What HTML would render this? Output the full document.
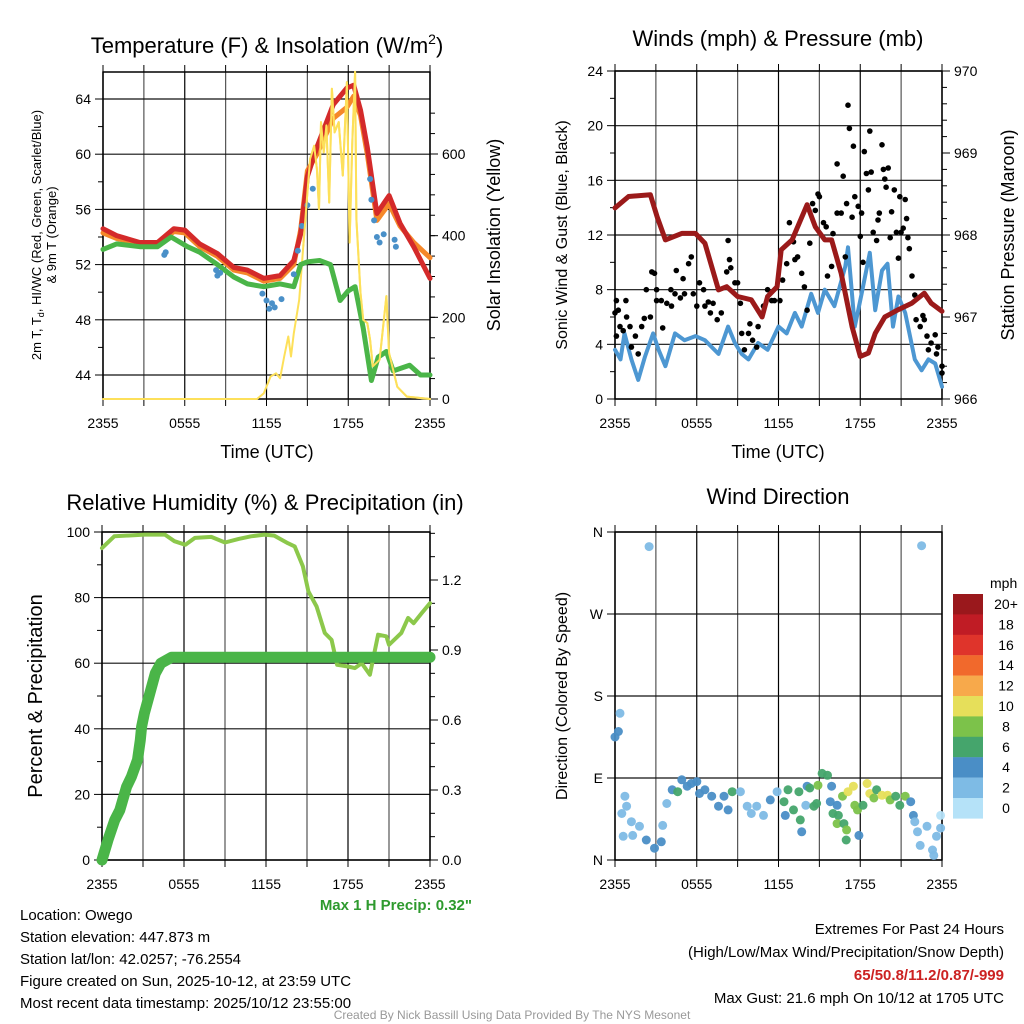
<!DOCTYPE html>
<html><head><meta charset="utf-8"><style>
html,body{margin:0;padding:0;background:#fff;}
svg{display:block;font-family:"Liberation Sans",Arial,sans-serif;}
</style></head><body>
<svg id="c" width="1024" height="1024" viewBox="0 0 1024 1024" xmlns="http://www.w3.org/2000/svg">
<text x="267" y="53" font-size="22" text-anchor="middle">Temperature (F) &amp; Insolation (W/m<tspan dy="-9" font-size="14">2</tspan><tspan dy="9">)</tspan></text>
<text x="778" y="46" font-size="22" text-anchor="middle">Winds (mph) &amp; Pressure (mb)</text>
<text x="265" y="510" font-size="22" text-anchor="middle">Relative Humidity (%) &amp; Precipitation (in)</text>
<text x="778" y="504" font-size="22" text-anchor="middle">Wind Direction</text>

<text x="267" y="458" font-size="18" text-anchor="middle">Time (UTC)</text>
<text x="778" y="458" font-size="18" text-anchor="middle">Time (UTC)</text>

<text transform="translate(41,235) rotate(-90)" font-size="13" text-anchor="middle">2m T, T<tspan font-size="9" dy="3">d</tspan><tspan dy="-3">, HI/WC (Red, Green, Scarlet/Blue)</tspan></text>
<text transform="translate(56,235) rotate(-90)" font-size="13" text-anchor="middle">&amp; 9m T (Orange)</text>
<text transform="translate(500,235) rotate(-90)" font-size="18" text-anchor="middle">Solar Insolation (Yellow)</text>
<text transform="translate(567,235) rotate(-90)" font-size="16" text-anchor="middle">Sonic Wind &amp; Gust (Blue, Black)</text>
<text transform="translate(1014,235) rotate(-90)" font-size="18" text-anchor="middle">Station Pressure (Maroon)</text>
<text transform="translate(42,696) rotate(-90)" font-size="20" text-anchor="middle">Percent &amp; Precipitation</text>
<text transform="translate(567,696) rotate(-90)" font-size="16" text-anchor="middle">Direction (Colored By Speed)</text>

<text x="472" y="910" font-size="15" font-weight="bold" fill="#2e9a2e" text-anchor="end">Max 1 H Precip: 0.32"</text>
<g font-size="15">
<text x="20" y="920">Location: Owego</text>
<text x="20" y="942">Station elevation: 447.873 m</text>
<text x="20" y="964">Station lat/lon: 42.0257; -76.2554</text>
<text x="20" y="986">Figure created on Sun, 2025-10-12, at 23:59 UTC</text>
<text x="20" y="1008">Most recent data timestamp: 2025/10/12 23:55:00</text>
</g>
<g font-size="15" text-anchor="end">
<text x="1004" y="934">Extremes For Past 24 Hours</text>
<text x="1004" y="957">(High/Low/Max Wind/Precipitation/Snow Depth)</text>
<text x="1004" y="980" font-weight="bold" fill="#cc2222">65/50.8/11.2/0.87/-999</text>
<text x="1004" y="1003">Max Gust: 21.6 mph On 10/12 at 1705 UTC</text>
</g>
<text x="512" y="1019" font-size="12" fill="#999" text-anchor="middle">Created By Nick Bassill Using Data Provided By The NYS Mesonet</text>
<g id="plots"></g>
</svg>
<script>
// ---------- data ----------
const timeTicks = ["2355","0555","1155","1755","2355"];
const tempHours = [0,1,2.7,4,5.2,6,7.1,8.4,9.6,10.6,11.8,13,14,14.5,15,15.7,16.9,17.9,18.4,18.9,19.4,20.1,21,21.8,22.8,24];
const tempRed = [54.6,54.1,53.6,53.6,54.6,54.5,53.5,52.8,51.8,51.6,51.0,51.2,52.3,54.2,58.4,60.5,63.6,64.8,65.0,63.2,60.5,55.7,57.0,55.0,53.3,51.0];
const tempOrange = [54.3,53.9,53.5,53.5,54.4,54.3,53.3,52.6,51.6,51.4,50.8,51.0,52.0,54.5,58.8,60.0,62.6,63.4,64.2,62.8,60.0,55.2,56.4,54.8,53.6,52.5];
const dewHours = [0,1,2.7,4,5,6.2,7.1,8.4,9.6,10.6,11.8,13,14,14.5,15,15.9,16.7,17.4,18,18.5,19.1,19.7,20.2,20.8,21.3,22.5,23.3,24];
const dewGreen = [53.1,53.5,53.3,53.3,54.0,53.3,52.9,52.0,51.1,50.6,50.4,50.6,50.4,52.0,52.2,52.3,52.0,49.4,50.1,50.4,47.4,43.6,45.3,45.7,44.3,44.7,44.0,44.0];
const hiwcHours = [4.5,4.6,8.3,8.4,8.6,11.7,12.0,12.2,12.4,12.6,13.1,14.0,14.3,14.6,15.0,15.4,19.6,19.7,19.9,20.1,20.3,20.6,21.4,21.5];
const hiwcTemp = [52.7,52.9,51.6,51.2,51.4,49.9,49.4,48.8,49.2,48.9,49.5,51.3,53.0,54.8,56.3,57.5,58.2,56.7,55.2,54.0,53.6,54.2,53.8,53.3];
const solarHours = [0,11.3,11.8,12.3,12.7,13,13.3,13.6,13.8,14,14.4,14.7,15,15.2,15.5,15.7,15.85,16.0,16.2,16.4,16.6,16.8,17.0,17.3,17.6,17.9,18.1,18.3,18.5,18.6,18.9,19.1,19.4,19.6,19.8,20.3,20.8,21.0,21.6,22.3,24];
const solarW = [0,0,14,55,63,51,104,153,104,161,243,375,506,588,620,563,465,678,604,670,481,760,653,678,547,776,383,629,801,440,260,194,186,145,80,96,252,112,30,6,0];
const presHours = [0,1,2.6,3.1,3.7,4.9,5.9,6.6,7.6,8.2,9,10,10.8,11.2,11.9,12.2,13,14.1,14.7,15.4,15.9,16.6,17.4,18,18.6,19.1,19.8,20.8,21.8,22.7,23.2,24];
const pressure = [968.33,968.47,968.49,968.22,967.94,968.02,968.02,967.9,967.33,967.37,967.25,967.21,967.0,967.25,967.37,967.82,967.94,968.37,968.1,967.94,967.94,967.53,966.88,966.52,966.56,966.8,967.0,967.09,967.17,967.29,967.17,967.07];
const windHours = [0,0.4,0.7,1.2,1.7,2.2,2.8,3.2,3.7,4.4,5.1,5.9,6.6,7.6,8.3,8.8,9.3,9.8,10.5,11.2,12,12.6,13.2,13.7,14.4,14.9,15.4,16.1,16.9,17.1,17.6,18.1,18.7,19.1,19.6,20,20.4,20.8,21.3,22,22.5,23,23.5,24];
const windSpeed = [3.6,2.9,4.8,2.9,1.4,3.1,4.8,3.6,2.4,4.8,4.3,4.6,4.3,3.3,5.3,4.1,3.3,2.9,4.1,3.6,5.3,4.8,6.3,5.3,7.7,6.3,8.0,6.8,9.7,11.1,5.3,7.7,10.7,6.5,9.4,9.9,5.3,7.5,6.3,2.9,2.1,2.9,2.6,0.9];
const gustHours = [0,0.1,0.1,0.24,0.37,0.6,0.8,0.85,1.1,1.2,1.5,1.7,1.96,2.15,2.3,2.6,2.7,2.9,3.05,3.05,3.4,3.5,3.8,4.1,4.15,4.4,4.5,4.8,5.0,5.1,5.4,5.6,5.75,6.0,6.2,6.5,6.6,6.85,7.0,7.2,7.5,7.8,8.2,8.3,8.4,8.5,8.8,9.0,9.2,9.3,9.5,9.8,9.9,10.1,10.4,10.5,10.9,11.2,11.5,11.7,12.1,12.3,12.6,12.8,13.1,13.2,13.4,13.7,13.9,14.1,14.3,14.5,14.7,14.9,15.0,15.3,15.5,15.6,15.9,16.0,16.3,16.3,16.6,16.75,16.9,17.0,17.1,17.2,17.4,17.5,17.6,17.85,18.0,18.1,18.2,18.3,18.45,18.6,18.7,18.8,18.95,19.2,19.3,19.4,19.6,19.7,19.8,19.9,20.05,20.2,20.3,20.5,20.65,20.8,20.9,21.0,21.15,21.3,21.4,21.5,21.6,21.8,22.0,22.1,22.4,22.6,22.7,22.9,23.0,23.2,23.5,23.6,23.7,24,24];
const gustSpeed = [6.3,7.2,4.6,6.5,5.3,5.0,7.2,6.0,5.3,3.8,4.6,3.3,5.3,5.9,8.0,6.0,9.3,9.2,8.0,7.2,7.2,5.2,7.0,8.0,6.8,7.7,9.4,7.4,8.8,7.7,9.9,10.4,7.7,6.8,8.5,8.0,6.8,7.1,6.3,7.0,5.8,6.3,9.3,11.6,10.2,9.6,8.5,8.5,7.0,4.8,3.6,4.8,5.5,4.3,3.8,5.3,6.8,8.0,7.2,7.2,7.2,8.7,9.9,12.9,11.5,10.2,10.4,9.2,8.2,6.5,11.4,14.3,13.8,15.0,14.8,12.9,12.6,9.0,9.7,12.1,17.2,13.6,13.6,16.3,10.4,14.3,21.5,19.8,13.3,18.5,14.8,14.1,11.9,13.6,10.0,18.1,16.5,15.3,19.6,16.6,12.2,11.6,13.1,13.6,18.6,16.8,16.1,15.5,16.9,11.8,13.7,15.3,12.2,10.3,14.8,12.2,12.5,14.6,13.2,11.8,11.0,9.0,7.6,5.8,5.3,6.1,5.8,4.6,3.6,4.1,4.7,3.3,3.8,1.9,2.4];
const rhHours = [0,0.9,3.1,4.6,5.3,6.1,6.8,8,9,10,10.9,11.9,12.6,13.6,14.1,14.7,15.1,15.7,16.3,16.8,17.2,18,18.5,19,19.6,20.2,20.8,21,21.9,22.4,22.8,23.4,24];
const rh = [95.1,98.7,99.2,99.2,97.2,96.1,98.2,98.5,96.8,97.9,98.7,99.2,98.9,96.6,95.6,89.5,81.9,77.3,69.2,67.1,59.5,59.0,58.5,60.0,56.5,68.7,68.2,65.6,69.2,73.8,72.2,75.3,78.3];
const precipHours = [0,0.44,0.93,1.3,1.8,2.15,2.6,2.8,2.9,3.1,3.5,3.9,4.3,5.1,24];
const precip = [0,0.086,0.171,0.214,0.314,0.357,0.429,0.514,0.571,0.629,0.714,0.8,0.843,0.869,0.869];
const dirHours = [2.5,22.5,0.37,0.25,0,0.73,0.85,0.5,0.6,1.2,1.3,1.8,2.3,2.9,3.4,3.5,3.8,4.2,4.6,4.9,5.3,5.6,6.0,6.2,6.6,7.1,7.6,8.0,8.3,8.6,9.2,9.7,10.0,10.4,10.9,11.4,11.9,12.4,12.5,12.7,13.1,13.5,13.6,13.7,14.0,14.1,14.3,14.6,14.8,14.9,15.2,15.6,15.8,15.9,16.0,16.3,16.4,16.3,16.8,17.0,16.97,16.7,17.1,17.5,17.6,17.8,17.9,18.2,18.5,18.7,19.0,19.2,19.6,20.0,20.2,20.6,20.9,21.3,21.7,21.9,22.0,22.2,22.4,22.9,23.3,23.4,23.6,23.9,23.9];
const dirDeg = [344,345,161,141,135,70,59,51,26,42,27,37,22,13,20,38,62,77,75,88,81,84,86,73,77,70,59,70,55,75,75,59,51,59,49,66,75,64,49,77,55,75,44,31,60,81,79,59,62,82,95,93,64,81,51,60,49,40,40,33,22,70,75,81,60,55,27,60,84,73,68,77,71,71,66,70,60,70,64,49,42,31,16,37,11,5,26,49,35];
const dirSpeed = [3,3,3,5,5,3,3,3,3,3,3,3,5,5,5,3,3,5,7,5,5,5,5,5,5,5,5,5,5,7,3,3,3,3,3,5,3,7,5,7,7,7,7,5,3,5,7,7,7,9,7,7,5,5,7,5,7,9,7,9,7,9,11,11,9,9,5,7,11,11,9,7,11,11,9,7,7,9,5,5,3,3,3,3,3,3,3,1,3];
const speedLabels = ["20+","18","16","14","12","10","8","6","4","2","0"];
const speedColors = ["#9a181c","#c01c25","#df342b","#f1692c","#f7a94b","#e6df5a","#7cc24a","#45a56c","#4a8ec6","#7ebbe5","#b5e2f8"];

// ---------- drawing ----------
const NS="http://www.w3.org/2000/svg";
const root=document.getElementById('plots');
function mk(tag,attrs,parent){const e=document.createElementNS(NS,tag);for(const k in attrs)e.setAttribute(k,attrs[k]);(parent||root).appendChild(e);return e;}
function lin(d0,d1,r0,r1){return v=>r0+(v-d0)*(r1-r0)/(d1-d0);}
function pathD(xs,ys,fx,fy){return xs.map((h,i)=>(i?'L':'M')+fx(h).toFixed(1)+','+fy(ys[i]).toFixed(1)).join('');}

function frame(p){
  const g=mk('g',{});
  
  
  for(let h=0;h<=24;h+=3){const x=p.fx(h);
    const l=mk('line',{x1:x,y1:p.y0,x2:x,y2:p.y1,stroke:(h%6==0)?'#000':'#555','stroke-width':1.2},g);
    
    
    mk('line',{x1:x,y1:p.y1,x2:x,y2:p.y1+7,stroke:'#000','stroke-width':1},g);
    mk('line',{x1:x,y1:p.y0-7,x2:x,y2:p.y0,stroke:'#000','stroke-width':1},g);}
  timeTicks.forEach((t,i)=>{const tx=mk('text',{x:p.fx(i*6),y:p.y1+29,'font-size':14,'text-anchor':'middle'},g);tx.textContent=t;
    
    });
  p.lt.forEach((v,i)=>{const y=p.fyl(v);
    const l=mk('line',{x1:p.x0,y1:y,x2:p.x1,y2:y,stroke:'#111','stroke-width':1.2},g);
    
    
    mk('line',{x1:p.x0-8,y1:y,x2:p.x0,y2:y,stroke:'#000'},g);
    const tx=mk('text',{x:p.x0-12,y:y+5,'font-size':14,'text-anchor':'end'},g);tx.textContent=p.ll[i];
    
    });
  (p.lm||[]).forEach(v=>{const y=p.fyl(v);mk('line',{x1:p.x0-5,y1:y,x2:p.x0,y2:y,stroke:'#000'},g);});
  (p.rt||[]).forEach((v,i)=>{const y=p.fyr(v);
    mk('line',{x1:p.x1,y1:y,x2:p.x1+8,y2:y,stroke:'#000'},g);
    const tx=mk('text',{x:p.x1+12,y:y+5,'font-size':14},g);tx.textContent=p.rl[i];
    
    });
  (p.rm||[]).forEach(v=>{const y=p.fyr(v);mk('line',{x1:p.x1,y1:y,x2:p.x1+5,y2:y,stroke:'#000'},g);});
  mk('rect',{x:p.x0,y:p.y0,width:p.x1-p.x0,height:p.y1-p.y0,fill:'none',stroke:'#000','stroke-width':1.5},g);
}
function line(xs,ys,fx,fy,col,w,name){const e=mk('path',{d:pathD(xs,ys,fx,fy),fill:'none',stroke:col,'stroke-width':w,'stroke-linejoin':'round','stroke-linecap':'round'});
  
  return e;}
function dots(xs,ys,fx,fy,col,r,name){const g=mk('g',{fill:col});
  
  
  xs.forEach((h,i)=>{mk('circle',{cx:fx(h).toFixed(1),cy:fy(ys[i]).toFixed(1),r:r},g);});return g;}
function range(a,b,s){const r=[];for(let v=a;v<=b+1e-9;v+=s)r.push(+v.toFixed(3));return r;}

// Panel 1: temperature
{const x0=103,x1=430,y0=72,y1=399;const fx=lin(0,24,x0,x1);
 const fyl=lin(44,64,375,99);const fyr=lin(0,600,399,154);
 frame({name:'temperature',x0,x1,y0,y1,fx,fyl,fyr,lt:[44,48,52,56,60,64],ll:['44','48','52','56','60','64'],lm:range(46,62,4),
   rt:[0,200,400,600],rl:['0','200','400','600'],rm:range(50,700,50)});
 line(solarHours,solarW,fx,fyr,'#fde05a',2,'solar-insolation-line');
 line(tempHours,tempOrange,fx,fyl,'#f5882a',5,'temperature-9m-line');
 line(tempHours,tempRed,fx,fyl,'#d42a2a',5,'temperature-2m-line');
 line(dewHours,dewGreen,fx,fyl,'#4ab548',5,'dewpoint-line');
 dots(hiwcHours,hiwcTemp,fx,fyl,'#4a90c8',3,'heat-index-wind-chill-dots');
 line(solarHours.filter(h=>h>=14.5),solarW.slice(solarHours.findIndex(h=>h>=14.5)),fx,fyr,'#fde05a',2,'solar-insolation-peak-line');
}
// Panel 2: winds
{const x0=615,x1=942,y0=71,y1=399;const fx=lin(0,24,x0,x1);
 const fyl=lin(0,24,y1,y0);const fyr=lin(966,970,y1,y0);
 frame({name:'winds',x0,x1,y0,y1,fx,fyl,fyr,lt:[0,4,8,12,16,20,24],ll:['0','4','8','12','16','20','24'],lm:range(2,22,4),
   rt:[966,967,968,969,970],rl:['966','967','968','969','970'],rm:range(966.2,969.8,0.2)});
 line(windHours,windSpeed,fx,fyl,'#4d97d2',4,'sonic-wind-line');
 dots(gustHours,gustSpeed,fx,fyl,'#000',2.8,'gust-dots');
 line(presHours,pressure,fx,fyr,'#9b1a1a',5,'pressure-line');
}
// Panel 3: humidity & precip
{const x0=102,x1=430,y0=532,y1=860;const fx=lin(0,24,x0,x1);
 const fyl=lin(0,100,y1,y0);const fyr=lin(0,1.2,y1,580);
 frame({name:'humidity',x0,x1,y0,y1,fx,fyl,fyr,lt:[0,20,40,60,80,100],ll:['0','20','40','60','80','100'],lm:range(10,90,20),
   rt:[0,0.3,0.6,0.9,1.2],rl:['0.0','0.3','0.6','0.9','1.2'],rm:range(0.1,1.4,0.1)});
 line(rhHours,rh,fx,fyl,'#8cc84b',4,'relative-humidity-line');
 line(precipHours,precip,fx,fyr,'#4ab548',11,'precipitation-line');
}
// Panel 4: wind direction
{const x0=615,x1=942,y0=532,y1=860;const fx=lin(0,24,x0,x1);
 const fyl=lin(0,360,y1,y0);
 frame({name:'direction',x0,x1,y0,y1,fx,fyl,lt:[0,90,180,270,360],ll:['N','E','S','W','N']});
 const g=mk('g',{});
 
 
 dirHours.forEach((h,i)=>{const ci=10-Math.min(10,Math.floor(dirSpeed[i]/2));
   const c=mk('circle',{cx:fx(h).toFixed(1),cy:fyl(dirDeg[i]).toFixed(1),r:4.5,fill:speedColors[ci],'fill-opacity':0.95},g);
   
   });
 const cb=mk('g',{});
 
 
 const t=mk('text',{x:990,y:588,'font-size':14},cb);t.textContent='mph';
 speedLabels.forEach((lab,i)=>{const y=594+i*20.4;
   const r=mk('rect',{x:953,y:y,width:30,height:20.6,fill:speedColors[i]},cb);
   
   
   const tx=mk('text',{x:1006,y:y+15,'font-size':14,'text-anchor':'middle'},cb);tx.textContent=lab;
   
   });
}
</script>
</body></html>
